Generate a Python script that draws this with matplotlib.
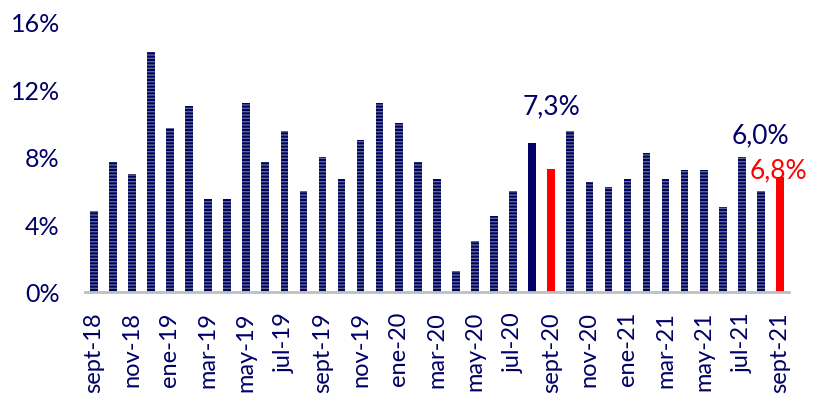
import numpy as np
import matplotlib
matplotlib.use('Agg')
import matplotlib.pyplot as plt

plt.rcParams['font.family'] = ['Lato', 'DejaVu Sans']
plt.rcParams['hatch.linewidth'] = 1.0

# monthly values, sept-18 .. sept-21 (%)
months = ['sept-18', 'oct-18', 'nov-18', 'dic-18', 'ene-19', 'feb-19', 'mar-19', 'abr-19',
          'may-19', 'jun-19', 'jul-19', 'ago-19', 'sept-19', 'oct-19', 'nov-19', 'dic-19',
          'ene-20', 'feb-20', 'mar-20', 'abr-20', 'may-20', 'jun-20', 'jul-20', 'ago-20',
          'sept-20', 'oct-20', 'nov-20', 'dic-20', 'ene-21', 'feb-21', 'mar-21', 'abr-21',
          'may-21', 'jun-21', 'jul-21', 'ago-21', 'sept-21']
values = [4.8, 7.7, 7.0, 14.2, 9.7, 11.0, 5.5, 5.5,
          11.2, 7.7, 9.5, 6.0, 8.0, 6.7, 9.0, 11.2,
          10.0, 7.7, 6.7, 1.2, 3.0, 4.5, 6.0, 8.8,
          7.3, 9.5, 6.5, 6.2, 6.7, 8.2, 6.7, 7.2,
          7.2, 5.0, 8.0, 6.0, 6.8]
solid_navy = ['ago-20']
red_bars = ['sept-20', 'sept-21']

navy = '#000066'
red = '#ff0000'
stripe = '#5a6a8c'

fig = plt.figure(figsize=(8.15, 4.02), dpi=100)
ax = fig.add_axes([0.104, 0.272, 0.864, 0.671])

x = np.arange(len(months))
for i, (m, v) in enumerate(zip(months, values)):
    if m in red_bars:
        ax.bar(i, v, width=0.4, color=red, linewidth=0)
    elif m in solid_navy:
        ax.bar(i, v, width=0.4, color=navy, linewidth=0)
    else:
        ax.bar(i, v, width=0.4, facecolor=navy, edgecolor=stripe, hatch='-----', linewidth=0)

# labels
ax.text(25 - 1, 11.0, '7,3%', color=navy, fontsize=19, ha='center', va='center')
ax.text(36 - 1, 9.3, '6,0%', color=navy, fontsize=19, ha='center', va='center')
ax.text(37 - 1.1, 7.25, '6,8%', color=red, fontsize=19, ha='center', va='center')

ax.set_xlim(-0.47, len(months) - 0.53)
ax.set_ylim(0, 16)
ax.set_yticks([0, 4, 8, 12, 16])
ax.set_yticklabels(['0%', '4%', '8%', '12%', '16%'])
ax.set_xticks(x[::2])
ax.set_xticklabels(months[::2], rotation=90)

for s in ['top', 'right', 'left']:
    ax.spines[s].set_visible(False)
ax.spines['bottom'].set_color('#bfbfbf')
ax.spines['bottom'].set_linewidth(2)

ax.tick_params(axis='y', length=0, pad=18, labelsize=18, labelcolor=navy)
ax.tick_params(axis='x', length=0, pad=14, labelsize=17, labelcolor=navy)

fig.savefig('out.png', dpi=100)
